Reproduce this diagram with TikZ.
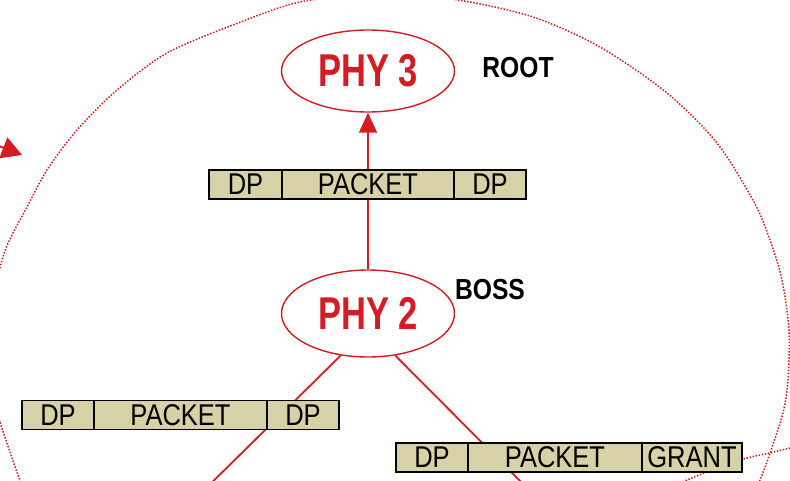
\documentclass[tikz,border=0pt]{standalone}
\usepackage{fontspec}
\setmainfont{Liberation Sans}
\newfontfamily\phyfont[FakeStretch=0.75]{Liberation Sans}
\newfontfamily\narrowfont[FakeStretch=0.85]{Liberation Sans}
\usetikzlibrary{positioning,arrows.meta,shapes.geometric}
\definecolor{phyred}{RGB}{213,28,36}
\definecolor{packetfill}{RGB}{214,209,166}
\begin{document}
\begin{tikzpicture}[x=1pt,y=-1pt,
  phy/.style={ellipse,draw=phyred,line width=1.4pt,text=phyred,inner sep=0pt,minimum width=173pt,font=\phyfont\bfseries\fontsize{46}{48}\selectfont},
  tag/.style={inner sep=0pt,font=\narrowfont\bfseries\fontsize{29}{30}\selectfont},
  field/.style={draw,line width=1.6pt,fill=packetfill,inner sep=0pt,outer sep=0pt,minimum height=29pt,font=\narrowfont\fontsize{30}{30}\selectfont},
  link/.style={phyred,line width=1.8pt},
  zone/.style={phyred,line width=1.5pt,dash pattern=on 1.5pt off 1.6pt}]
\useasboundingbox (0,0) rectangle (790,481);
\clip (0,0) rectangle (790,481);
% cluster borders
\draw[zone] plot[smooth] coordinates {(35,510) (20,480) (7,443) (0,422) (-8,390) (-13,345) (-5,290) (6,248) (27,207) (47,170) (77,130) (117,90) (167,53) (233,25) (300,2) (380,-6) (458,0) (533,17) (600,47) (667,93) (717,143) (754,202) (770,240) (782,280) (789,330) (788,380) (783,413) (770,453) (760,480) (745,510)};
\draw[zone] plot[smooth] coordinates {(660,492) (687,480) (717,468) (747,458) (770,453) (790,448) (810,444)};
% PHYs
\node[phy,minimum height=82pt] (phy3) at (368,71) {PHY 3};
\node[phy,minimum height=87pt] (phy2) at (368,313.5) {PHY 2};
\node[tag] (root) at (518,68) {ROOT};
\node[tag] (boss) at (490,290) {BOSS};
% links
\coordinate (lend) at (188,506); \coordinate (rend) at (546,507);
\coordinate (fromleft) at (-40,131); \coordinate (intoleft) at (22,155);
\draw[link,-{Triangle[width=18pt,length=20pt]}] (phy2.north) -- (phy3.south);
\draw[link] (phy2.237) -- (lend);
\draw[link] (phy2.303) -- (rend);
\draw[link,line width=2pt,-{Triangle[width=22pt,length=20pt]}] (fromleft) -- (intoleft);
% packets
\node[field,minimum width=73pt,anchor=west] (ta) at (209,184.5) {DP};
\node[field,minimum width=172pt,right=0pt of ta] (tb) {PACKET};
\node[field,minimum width=72pt,right=0pt of tb] (tc) {DP};
\node[field,minimum width=72pt,anchor=west] (la) at (22,415) {DP};
\node[field,minimum width=173pt,right=0pt of la] (lb) {PACKET};
\node[field,minimum width=72pt,right=0pt of lb] (lc) {DP};
\node[field,minimum width=72pt,anchor=west] (ra) at (396,457.5) {DP};
\node[field,minimum width=174pt,right=0pt of ra] (rb) {PACKET};
\node[field,minimum width=100pt,right=0pt of rb] (rc) {GRANT};
\end{tikzpicture}
\end{document}
